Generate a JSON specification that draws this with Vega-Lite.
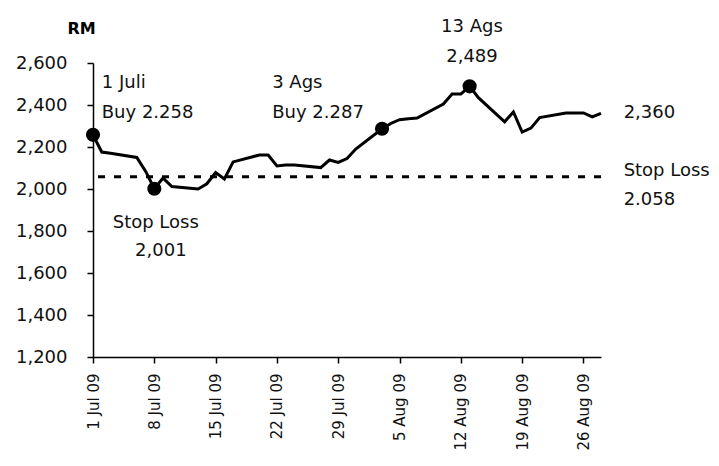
{
  "$schema": "https://vega.github.io/schema/vega-lite/v6.json",
  "width": 508,
  "height": 294,
  "autosize": {"type": "none"},
  "padding": {"left": 93, "top": 63, "right": 118, "bottom": 109},
  "background": "white",
  "config": {
    "view": {"stroke": null},
    "font": "DejaVu Sans",
    "axis": {"grid": false, "domainColor": "#000", "tickColor": "#000", "labelColor": "#111", "titleColor": "#000", "domainWidth": 1.5, "tickWidth": 1.5}
  },
  "layer": [
    {
      "data": {"values": [{"level": 2058}]},
      "mark": {"type": "rule", "color": "#000", "strokeWidth": 3, "strokeDash": [7, 9]},
      "encoding": {
        "y": {"field": "level", "type": "quantitative", "scale": {"domain": [1200, 2600], "nice": false}}
      }
    },
    {
      "data": {
        "values": [
          {"date": "2009-07-01", "price": 2258},
          {"date": "2009-07-02", "price": 2176},
          {"date": "2009-07-03", "price": 2170},
          {"date": "2009-07-06", "price": 2150},
          {"date": "2009-07-07", "price": 2085},
          {"date": "2009-07-08", "price": 2001},
          {"date": "2009-07-09", "price": 2052},
          {"date": "2009-07-10", "price": 2012},
          {"date": "2009-07-13", "price": 2000},
          {"date": "2009-07-14", "price": 2025},
          {"date": "2009-07-15", "price": 2078},
          {"date": "2009-07-16", "price": 2048},
          {"date": "2009-07-17", "price": 2129},
          {"date": "2009-07-20", "price": 2162},
          {"date": "2009-07-21", "price": 2162},
          {"date": "2009-07-22", "price": 2110},
          {"date": "2009-07-23", "price": 2114},
          {"date": "2009-07-24", "price": 2114},
          {"date": "2009-07-27", "price": 2102},
          {"date": "2009-07-28", "price": 2138},
          {"date": "2009-07-29", "price": 2127},
          {"date": "2009-07-30", "price": 2145},
          {"date": "2009-07-31", "price": 2190},
          {"date": "2009-08-03", "price": 2287},
          {"date": "2009-08-04", "price": 2312},
          {"date": "2009-08-05", "price": 2330},
          {"date": "2009-08-06", "price": 2335},
          {"date": "2009-08-07", "price": 2338},
          {"date": "2009-08-10", "price": 2405},
          {"date": "2009-08-11", "price": 2452},
          {"date": "2009-08-12", "price": 2452},
          {"date": "2009-08-13", "price": 2489},
          {"date": "2009-08-14", "price": 2435},
          {"date": "2009-08-17", "price": 2320},
          {"date": "2009-08-18", "price": 2367},
          {"date": "2009-08-19", "price": 2271},
          {"date": "2009-08-20", "price": 2290},
          {"date": "2009-08-21", "price": 2340},
          {"date": "2009-08-24", "price": 2362},
          {"date": "2009-08-25", "price": 2362},
          {"date": "2009-08-26", "price": 2362},
          {"date": "2009-08-27", "price": 2343},
          {"date": "2009-08-28", "price": 2360}
        ],
        "format": {"parse": {"date": "date:'%Y-%m-%d'"}}
      },
      "mark": {"type": "line", "color": "#000", "strokeWidth": 3},
      "encoding": {
        "x": {
          "field": "date",
          "type": "temporal",
          "scale": {"domain": [{"year": 2009, "month": 7, "date": 1}, {"year": 2009, "month": 8, "date": 28}], "nice": false},
          "axis": {
            "title": null,
            "values": [
              {"year": 2009, "month": 7, "date": 1},
              {"year": 2009, "month": 7, "date": 8},
              {"year": 2009, "month": 7, "date": 15},
              {"year": 2009, "month": 7, "date": 22},
              {"year": 2009, "month": 7, "date": 29},
              {"year": 2009, "month": 8, "date": 5},
              {"year": 2009, "month": 8, "date": 12},
              {"year": 2009, "month": 8, "date": 19},
              {"year": 2009, "month": 8, "date": 26}
            ],
            "format": "%-d %b %y",
            "labelAngle": -90,
            "labelFontSize": 15,
            "labelPadding": 10,
            "tickSize": 6,
            "labelOverlap": false,
            "labelFlush": false,
            "labelBound": false
          }
        },
        "y": {
          "field": "price",
          "type": "quantitative",
          "scale": {"domain": [1200, 2600], "nice": false},
          "axis": {
            "values": [1200, 1400, 1600, 1800, 2000, 2200, 2400, 2600],
            "format": ",.0f",
            "labelFontSize": 18,
            "labelPadding": 20,
            "tickSize": 6,
            "title": "RM",
            "titleAngle": 0,
            "titleFontWeight": "bold",
            "titleFontSize": 16,
            "titleAlign": "center",
            "titleBaseline": "alphabetic",
            "titleX": -12,
            "titleY": -30
          }
        }
      }
    },
    {
      "data": {
        "values": [
          {"date": "2009-07-01", "price": 2258},
          {"date": "2009-07-08", "price": 2001},
          {"date": "2009-08-03", "price": 2287},
          {"date": "2009-08-13", "price": 2489}
        ],
        "format": {"parse": {"date": "date:'%Y-%m-%d'"}}
      },
      "mark": {"type": "circle", "color": "#000", "opacity": 1, "size": 200},
      "encoding": {
        "x": {"field": "date", "type": "temporal"},
        "y": {"field": "price", "type": "quantitative"}
      }
    },
    {
      "data": {
        "values": [
          {"date": "2009-07-02 00:00", "value": 2481, "label": "1 Juli"},
          {"date": "2009-07-02 00:00", "value": 2338, "label": "Buy 2.258"},
          {"date": "2009-07-21 11:00", "value": 2481, "label": "3 Ags"},
          {"date": "2009-07-21 11:00", "value": 2338, "label": "Buy 2.287"},
          {"date": "2009-08-30 14:00", "value": 2338, "label": "2,360"},
          {"date": "2009-08-30 14:00", "value": 2062, "label": "Stop Loss"},
          {"date": "2009-08-30 14:00", "value": 1924, "label": "2.058"}
        ],
        "format": {"parse": {"date": "date:'%Y-%m-%d %H:%M'"}}
      },
      "mark": {"type": "text", "align": "left", "baseline": "alphabetic", "fontSize": 18, "color": "#111"},
      "encoding": {
        "x": {"field": "date", "type": "temporal"},
        "y": {"field": "value", "type": "quantitative"},
        "text": {"field": "label"}
      }
    },
    {
      "data": {
        "values": [
          {"date": "2009-08-13 06:30", "value": 2749, "label": "13 Ags"},
          {"date": "2009-08-13 06:30", "value": 2606, "label": "2,489"},
          {"date": "2009-07-08 04:00", "value": 1814, "label": "Stop Loss"},
          {"date": "2009-07-08 18:00", "value": 1681, "label": "2,001"}
        ],
        "format": {"parse": {"date": "date:'%Y-%m-%d %H:%M'"}}
      },
      "mark": {"type": "text", "align": "center", "baseline": "alphabetic", "fontSize": 18, "color": "#111"},
      "encoding": {
        "x": {"field": "date", "type": "temporal"},
        "y": {"field": "value", "type": "quantitative"},
        "text": {"field": "label"}
      }
    }
  ]
}
